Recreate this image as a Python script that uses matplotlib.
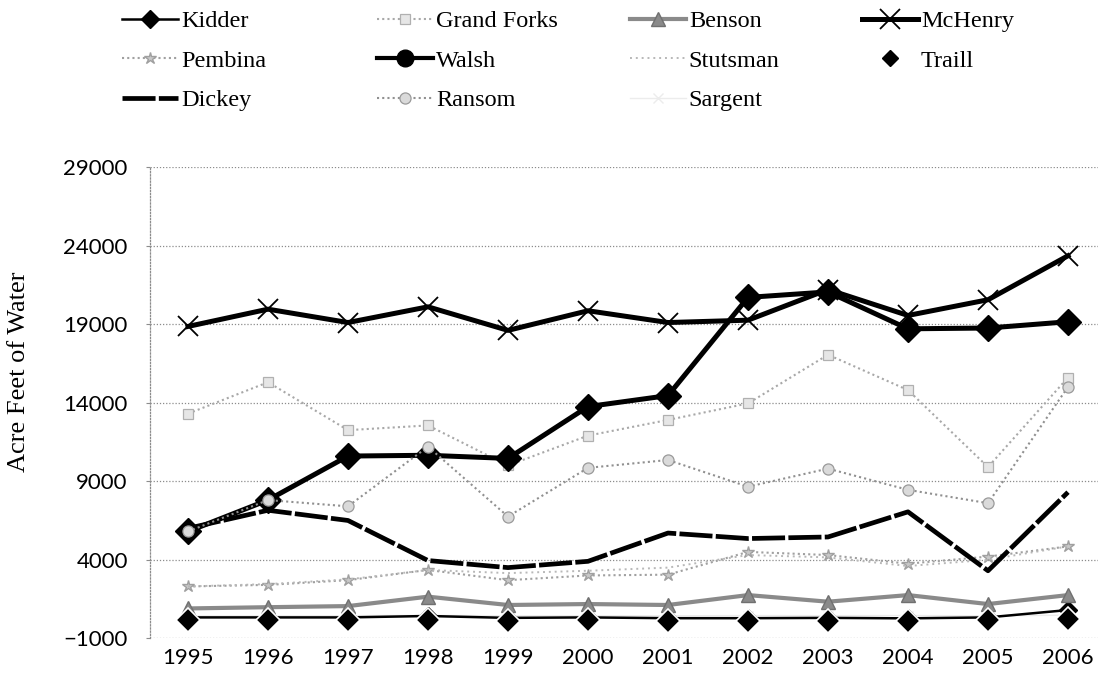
import matplotlib
matplotlib.use("Agg")
import matplotlib.pyplot as plt
from matplotlib.lines import Line2D

# water use per county, acre feet
years = [1995, 1996, 1997, 1998, 1999, 2000, 2001, 2002, 2003, 2004, 2005, 2006]
kidder = [330, 330, 330, 420, 300, 330, 280, 280, 300, 270, 330, 800]
grand_forks = [13300, 15300, 12250, 12550, 10000, 11900, 12900, 13950, 17050, 14800, 9900, 15600]
benson = [900, 980, 1050, 1650, 1120, 1180, 1120, 1750, 1330, 1750, 1180, 1750]
mchenry = [18850, 19950, 19100, 20100, 18600, 19850, 19100, 19250, 21200, 19550, 20550, 23350]
pembina = [2300, 2400, 2700, 3350, 2700, 3000, 3050, 4500, 4300, 3750, 4200, 4850]
walsh = [5800, 7800, 10600, 10650, 10450, 13750, 14450, 20700, 21050, 18700, 18750, 19150]
stutsman = [2300, 2450, 2750, 3350, 3150, 3300, 3500, 4300, 4150, 3600, 4000, 4850]
traill = [160, 160, 160, 160, 120, 160, 130, 80, 130, 80, 160, 220]
dickey = [6000, 7150, 6500, 3950, 3500, 3900, 5700, 5350, 5450, 7050, 3300, 8300]
ransom = [5800, 7800, 7400, 11200, 6750, 9850, 10350, 8650, 9800, 8450, 7600, 15000]
sargent = [420, 430, 440, 460, 430, 440, 430, 450, 440, 450, 430, 470]

yticks = [-1000, 4000, 9000, 14000, 19000, 24000, 29000]

W, H = 1098, 679
fig = plt.figure(figsize=(W / 100, H / 100), dpi=100)
ax = fig.add_axes([150 / W, (H - 638.3) / H, 958 / W, (638.3 - 167) / H])

x = list(range(len(years)))

styles = {
    "Kidder": dict(color="black", lw=1.8, marker="D", ms=9, zorder=3),
    "Grand Forks": dict(color="#a8a8a8", lw=1.5, ls=(0, (1, 1.5)), marker="s", ms=7,
                        mfc="#e6e6e6", mec="#b0b0b0", mew=0.9, zorder=3),
    "Benson": dict(color="#8a8a8a", lw=3.0, marker="^", ms=10, mfc="#8a8a8a", mec="#707070", zorder=3),
    "McHenry": dict(color="black", lw=3.6, marker="x", ms=14, mew=1.3, zorder=4),
    "Pembina": dict(color="#a0a0a0", lw=1.5, ls=(0, (1, 1.5)), marker="*", ms=9,
                    mfc="#c8c8c8", mec="#a0a0a0", zorder=3),
    "Walsh": dict(color="black", lw=3.6, marker="D", ms=13, zorder=4),
    "Stutsman": dict(color="#b8b8b8", lw=1.4, ls=(0, (1, 2)), marker=None, zorder=3),
    "Traill": dict(color="black", lw=0, marker="D", ms=12, mec="white", mew=1.2, zorder=6),
    "Dickey": dict(color="black", lw=3.4, ls=(0, (7, 0.7)), marker=None, zorder=5),
    "Ransom": dict(color="#909090", lw=1.5, ls=(0, (1, 1.5)), marker="o", ms=8,
                   mfc="#dadada", mec="#9a9a9a", mew=0.9, zorder=5),
    "Sargent": dict(color="#ececec", lw=1.0, marker="x", ms=7, zorder=2),
}
series = {
    "Kidder": kidder, "Grand Forks": grand_forks, "Benson": benson, "McHenry": mchenry,
    "Pembina": pembina, "Walsh": walsh, "Stutsman": stutsman, "Traill": traill,
    "Dickey": dickey, "Ransom": ransom, "Sargent": sargent,
}

handles = {}
for name, vals in series.items():
    st = dict(styles[name])
    ls = st.pop("ls", "-")
    line, = ax.plot(x, vals, linestyle=ls, **st)
    handles[name] = line

# legend swatch for Walsh shows a round marker
handles["Walsh"] = Line2D([], [], color="black", lw=3.0, marker="o", ms=12)
handles["Traill"] = Line2D([], [], color="black", lw=0, marker="D", ms=8)

ax.set_xlim(-0.475, 11.5)
ax.set_ylim(-1000, 29000)
ax.set_yticks(yticks)
ax.set_xticks(x)
ax.set_xticklabels([str(y) for y in years])

ax.grid(axis="y", color="#8c8c8c", ls=(0, (1, 1.5)), lw=0.9)
ax.set_axisbelow(True)
for s in ["top", "right", "bottom"]:
    ax.spines[s].set_visible(False)
ax.spines["left"].set_linestyle((0, (1, 1.5)))
ax.spines["left"].set_color("#8c8c8c")
ax.spines["left"].set_linewidth(0.9)

ax.tick_params(axis="y", length=3, color="#8c8c8c", pad=13)
ax.tick_params(axis="x", length=0, pad=7)
for lab in ax.get_yticklabels() + ax.get_xticklabels():
    lab.set_fontfamily("Lato")
    lab.set_fontsize(16)

fig.text(19 / W, 1 - 372 / H, "Acre Feet of Water", rotation=90, ha="center", va="center",
         family="Liberation Serif", fontsize=19)

# four legend columns, Excel style fixed column positions
columns = [
    (122, ["Kidder", "Pembina", "Dickey"]),
    (377, ["Grand Forks", "Walsh", "Ransom"]),
    (630, ["Benson", "Stutsman", "Sargent"]),
    (862, ["McHenry", "Traill"]),
]
for xpos, names in columns:
    leg = fig.legend([handles[n] for n in names], names, loc="upper left",
                     bbox_to_anchor=(xpos / W, 1 - 10 / H), frameon=False,
                     prop=dict(family="Liberation Serif", size=17.5),
                     handlelength=2.3, handletextpad=0.12, labelspacing=0.72,
                     borderpad=0, borderaxespad=0)

fig.savefig("out.png", dpi=100)
